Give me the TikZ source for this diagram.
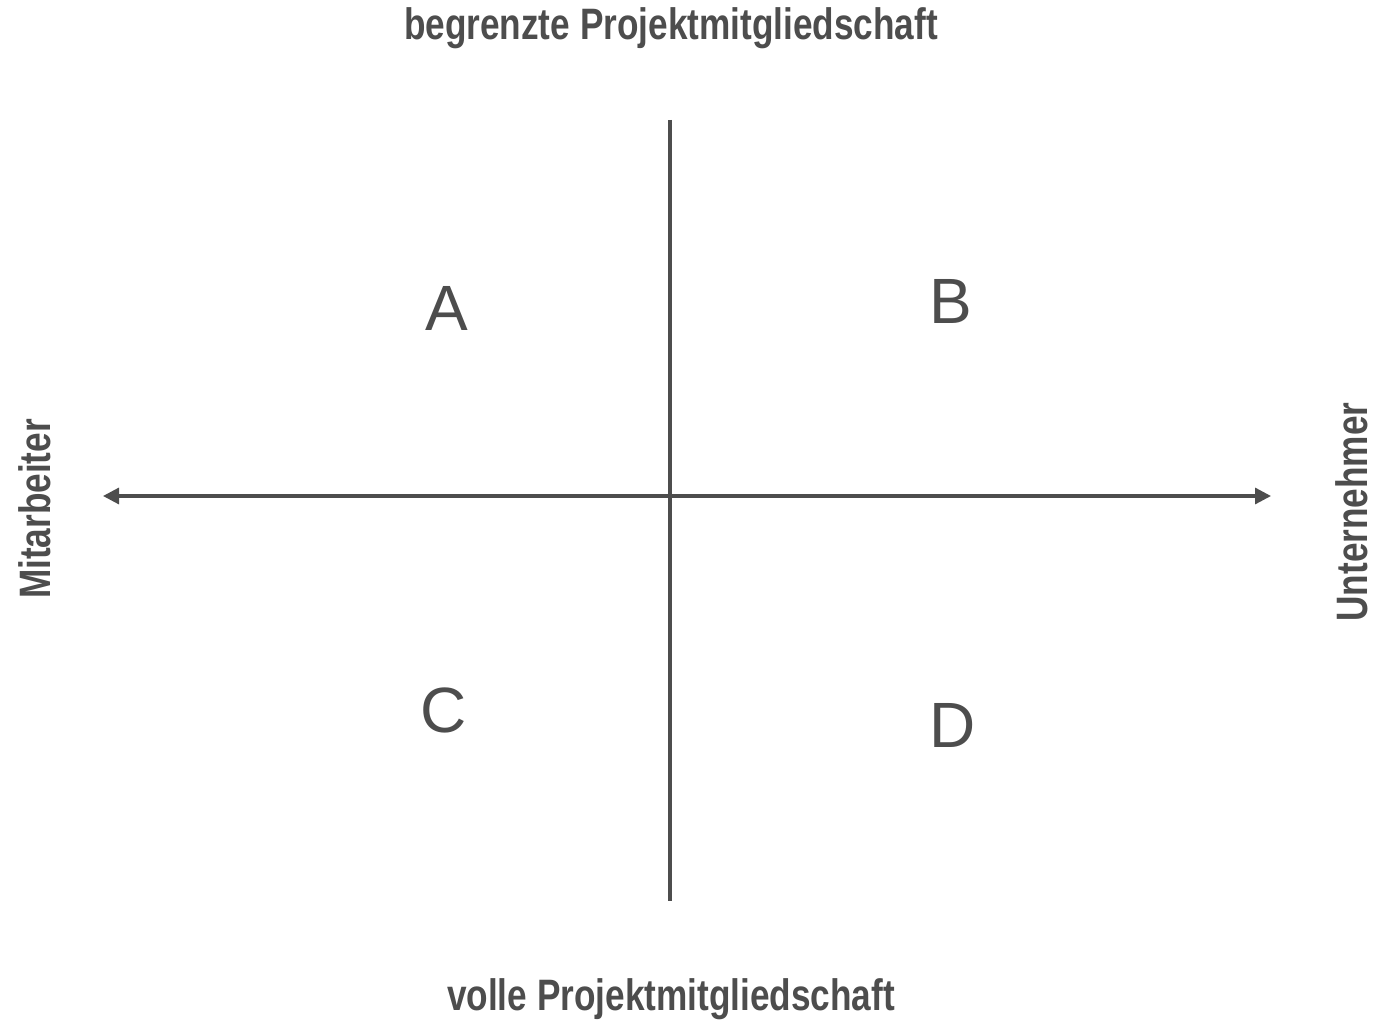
\documentclass[tikz,border=0pt]{standalone}
\usepackage{fontspec}
\setmainfont{Liberation Sans}
\newfontfamily\narrowfont[FakeStretch=0.80]{Liberation Sans}
\usetikzlibrary{arrows.meta}
\definecolor{ink}{HTML}{4D4D4D}
\tikzset{
  axisline/.style={draw=ink, line width=3.2pt},
  axislabel/.style={text=ink, inner sep=0pt, font=\narrowfont\bfseries\fontsize{44}{48}\selectfont},
  quadlabel/.style={text=ink, inner sep=0pt, font=\fontsize{64}{70}\selectfont},
}
\begin{document}
\begin{tikzpicture}[x=1pt,y=-1pt]
\useasboundingbox (0,0) rectangle (1378,1024);
\coordinate (L) at (103,496);
\coordinate (R) at (1271,496);
\coordinate (T) at (670,120);
\coordinate (Bt) at (670,901);
\draw[axisline, {Triangle[length=16pt,width=16pt]}-{Triangle[length=16pt,width=16pt]}] (L) -- (R);
\draw[axisline] (T) -- (Bt);
\node[axislabel] (top) at (671,28) {begrenzte Projektmitgliedschaft};
\node[axislabel] (bot) at (671,999) {volle Projektmitgliedschaft};
\node[axislabel, rotate=90] (left) at (35,509) {Mitarbeiter};
\node[axislabel, rotate=90] (right) at (1352,512) {Unternehmer};
\node[quadlabel] (A) at (447,308) {A};
\node[quadlabel] (B) at (951,301) {B};
\node[quadlabel] (C) at (444,710) {C};
\node[quadlabel] (D) at (953,725) {D};
\end{tikzpicture}
\end{document}
